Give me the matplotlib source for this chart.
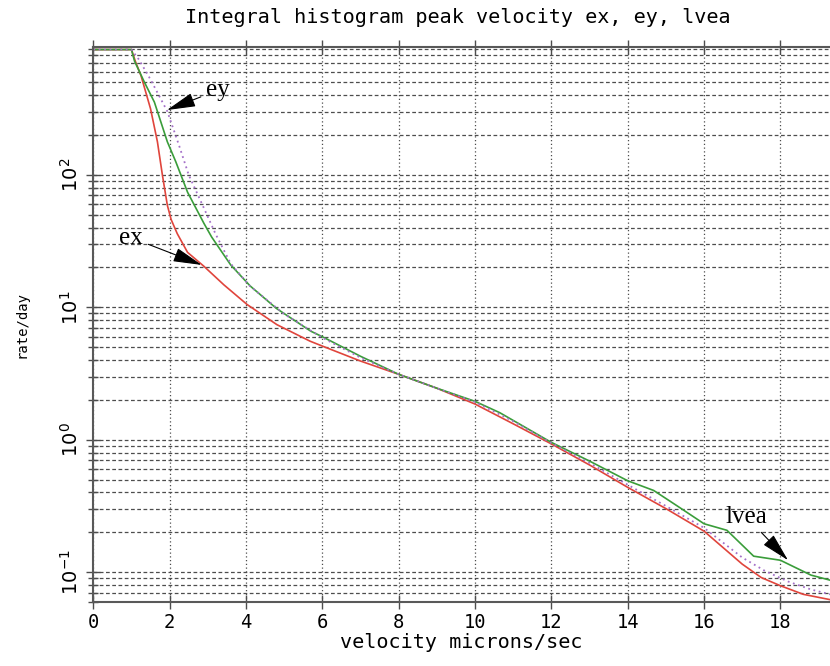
import numpy as np
import matplotlib
matplotlib.use('Agg')
import matplotlib.pyplot as plt
from matplotlib.ticker import LogLocator, NullFormatter

# integral rate/day versus peak velocity (microns/sec)
ex_velocity = [0.0, 1.0, 1.1, 1.25, 1.5, 1.68, 1.81, 1.94, 2.04, 2.2, 2.47, 2.9,
               3.42, 4.03, 4.81, 5.68, 6.0, 7.0, 8.0, 9.0, 10.0, 11.0, 12.0,
               13.0, 14.0, 15.0, 16.0, 17.0, 17.5, 18.0, 18.6, 19.3]
ex_rate = [885, 885, 724, 562, 316, 178, 100, 59, 46, 36, 26, 20.4,
           14.8, 10.5, 7.4, 5.55, 5.1, 3.93, 3.12, 2.45, 1.86, 1.32, 0.93,
           0.645, 0.437, 0.302, 0.204, 0.115, 0.091, 0.079, 0.068, 0.062]

ey_velocity = [0.0, 1.0, 1.2, 1.5, 1.94, 2.25, 2.5, 2.9, 3.2, 3.6, 4.1, 5.0,
               6.0, 7.0, 8.0, 9.0, 10.0, 11.0, 12.0, 13.0, 14.0, 15.0, 16.0,
               17.0, 17.6, 18.2, 18.8, 19.3]
ey_rate = [885, 885, 741, 525, 302, 166, 100, 56, 36, 21.4, 14.5, 8.9,
           5.9, 4.17, 3.12, 2.45, 1.93, 1.38, 0.944, 0.668, 0.457, 0.316, 0.216,
           0.129, 0.102, 0.085, 0.074, 0.068]

lvea_velocity = [0.0, 1.0, 1.08, 1.34, 1.6, 1.94, 2.16, 2.47, 2.9, 3.1, 3.6,
                 4.11, 4.8, 5.7, 6.0, 7.0, 8.0, 9.0, 10.0, 10.65, 12.0, 13.0,
                 14.0, 14.68, 15.3, 16.0, 16.6, 17.3, 18.0, 18.8, 19.3]
lvea_rate = [885, 885, 724, 501, 355, 178, 126, 74, 43, 34, 20.9,
             14.5, 9.8, 6.6, 6.0, 4.27, 3.12, 2.45, 1.95, 1.6, 0.955, 0.69,
             0.49, 0.414, 0.316, 0.232, 0.207, 0.132, 0.123, 0.095, 0.087]

x_ticks = [0, 2, 4, 6, 8, 10, 12, 14, 16, 18]
x_tick_labels = ['0', '2', '4', '6', '8', '10', '12', '14', '16', '18']

mono = 'DejaVu Sans Mono'
serif = ['Liberation Serif', 'DejaVu Serif']
plt.rcParams['mathtext.fontset'] = 'custom'
plt.rcParams['mathtext.rm'] = mono
plt.rcParams['mathtext.it'] = mono
plt.rcParams['mathtext.bf'] = mono


def plot_histogram():
    """
    Integral histogram of peak velocity for ex, ey and lvea
    """
    fig = plt.figure(figsize=(8.3, 6.66), dpi=100)
    ax = fig.add_axes([0.1124, 0.0961, 0.8876, 0.8333])

    ax.plot(ex_velocity, ex_rate, c='#e0453c', lw=1.2)
    ax.plot(lvea_velocity, lvea_rate, c='#3a9d3a', lw=1.2)
    ax.plot(ey_velocity, ey_rate, c='#a470c8', lw=1.3, ls=(0, (1, 2)))

    ax.set_yscale('log')
    ax.set_xlim(0, 19.3)
    ax.set_ylim(0.0595, 925)

    ax.set_xticks(x_ticks)
    ax.set_xticklabels(x_tick_labels)
    ax.yaxis.set_major_locator(LogLocator(base=10, numticks=20))
    ax.yaxis.set_minor_locator(LogLocator(base=10, subs=np.arange(2, 10), numticks=50))
    ax.yaxis.set_minor_formatter(NullFormatter())

    ax.grid(True, which='both', axis='y', ls=(0, (3, 2)), color='0.3', lw=0.9)
    ax.grid(True, which='major', axis='x', ls=(0, (1, 2)), color='0.3', lw=0.9)

    ax.tick_params(which='major', direction='inout', length=10, width=1,
                   color='0.3', top=True, pad=3)
    ax.tick_params(which='minor', direction='inout', length=7, width=1,
                   color='0.3')
    ax.tick_params(axis='x', labelsize=13.5, labelfontfamily=mono)
    ax.tick_params(axis='y', labelsize=14, labelrotation=90)
    for lab in ax.get_yticklabels():
        lab.set_va('center')

    for side in ['left', 'bottom', 'top']:
        ax.spines[side].set_linewidth(1.5)
        ax.spines[side].set_color('0.35')
    ax.spines['right'].set_visible(False)

    arrow = dict(arrowstyle='-|>,head_length=0.9,head_width=0.22',
                 mutation_scale=20, color='black', lw=0.8, shrinkA=2, shrinkB=0)
    ax.annotate('ey', xy=(1.93, 309), xytext=(3.27, 437), ha='center',
                va='center', fontsize=18, family=serif, arrowprops=arrow)
    ax.annotate('ex', xy=(2.84, 20.9), xytext=(0.99, 33.6), ha='center',
                va='center', fontsize=18, family=serif, arrowprops=arrow)
    ax.annotate('lvea', xy=(18.2, 0.123), xytext=(17.1, 0.263), ha='center',
                va='center', fontsize=18, family=serif, arrowprops=arrow)

    ax.set_xlabel('velocity microns/sec', family=mono, fontsize=14.5, labelpad=1)
    ax.set_ylabel('rate/day', family=mono, fontsize=10)
    ax.yaxis.set_label_coords(-0.088, 0.5)
    fig.text(0.551, 0.974, 'Integral histogram peak velocity ex, ey, lvea',
             family=mono, fontsize=14.5, ha='center', va='center')

    fig.savefig('out.png', dpi=100)


def main():
    plot_histogram()


if __name__ == "__main__":
    main()
